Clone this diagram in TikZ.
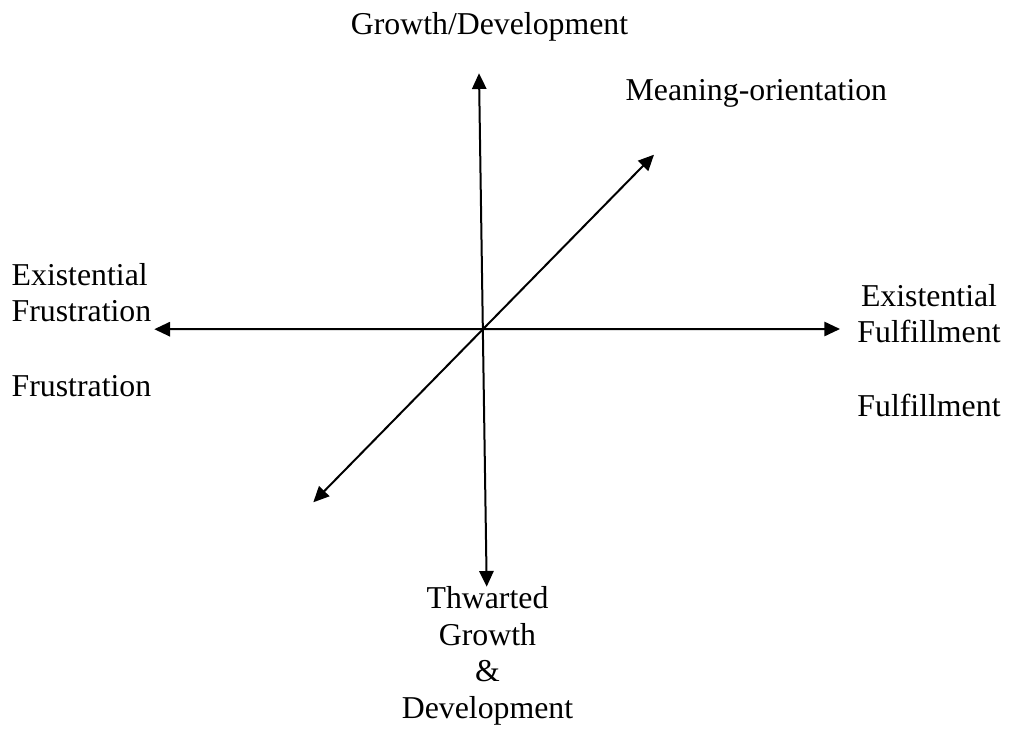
\documentclass[tikz,border=0pt]{standalone}
\usepackage{fontspec}
\setmainfont{Liberation Serif}
\usetikzlibrary{arrows.meta}

\tikzset{
  axis/.style={line width=2pt,
    {Triangle[length=15.7pt,width=14.3pt]}-{Triangle[length=15.7pt,width=14.3pt]}},
  axislabel/.style={inner sep=0pt, anchor=base,
    font=\fontsize{31.8}{36.6}\selectfont}
}

\begin{document}
\begin{tikzpicture}[x=1pt,y=-1pt]
        \useasboundingbox (0,0) rectangle (1009,735);
        % end points of the three axes
        \coordinate (gtop) at (479,73.3);
        \coordinate (gbot) at (486.7,586.7);
        \coordinate (fleft) at (154.3,329.2);
        \coordinate (fright) at (840,329);
        \coordinate (mtop) at (654,154.7);
        \coordinate (mbot) at (313.3,502.3);
        \draw[axis] (gbot) -- (gtop);
        \draw[axis] (fleft) -- (fright);
        \draw[axis] (mbot) -- (mtop);
        % axis labels (multi-line ones sit on their last line)
        \node[axislabel] (growth) at (489.5,34.3) {Growth/Development};
        \node[axislabel] (meaning) at (756.4,100.7) {Meaning-orientation};
        \node[axislabel, align=left, anchor=base west] (exfrus) at (11.5,321.7) {Existential\\Frustration};
        \node[axislabel, anchor=base west] (frus) at (11.5,396.7) {Frustration};
        \node[axislabel, align=center] (exful) at (929,342.7) {Existential\\Fulfillment};
        \node[axislabel] (ful) at (929,416.7) {Fulfillment};
        \node[axislabel, align=center] (thwarted) at (487.5,718.3) {Thwarted\\Growth\\\&\\Development};
    \end{tikzpicture}
\end{document}
